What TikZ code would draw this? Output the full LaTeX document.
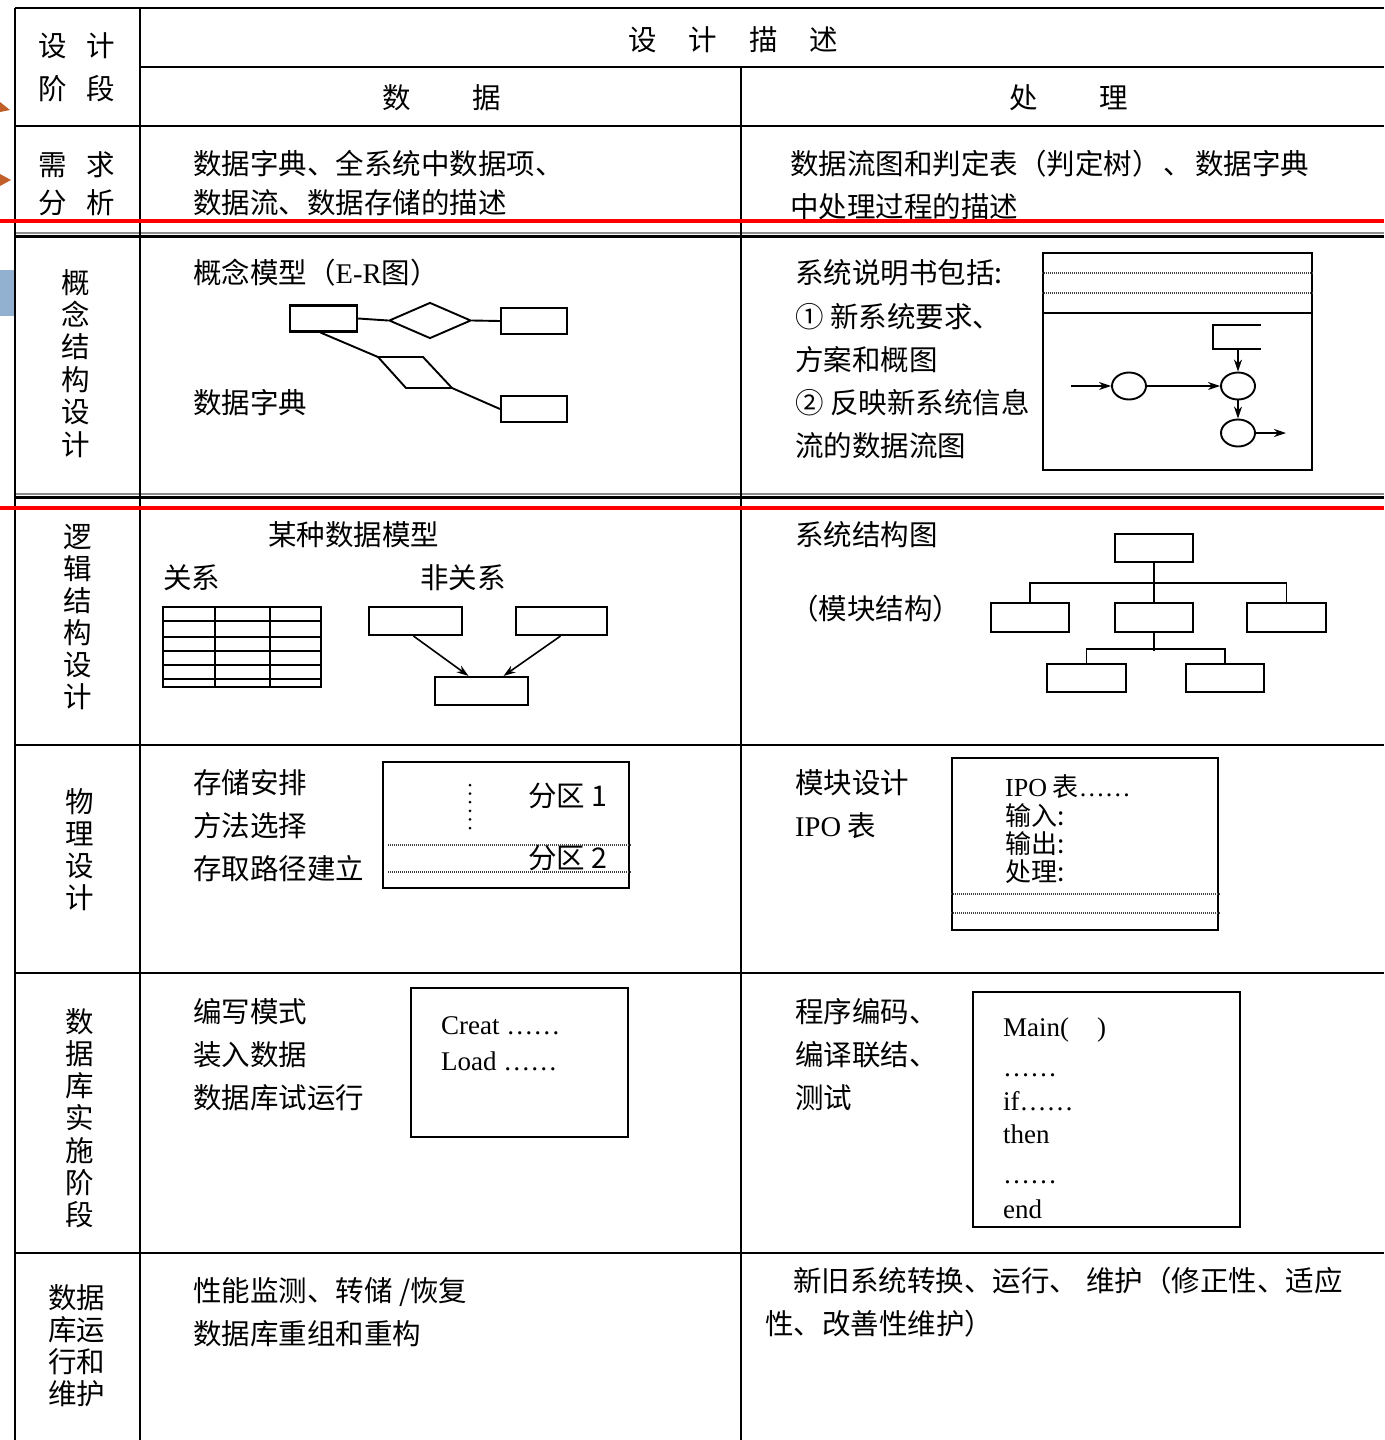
\documentclass[tikz,border=0pt]{standalone}
\usepackage{fontspec}
\setmainfont{Liberation Serif}
\newfontfamily\cjk{Noto Sans CJK SC}
\usetikzlibrary{arrows.meta,shapes.geometric,calc}
\definecolor{redline}{RGB}{255,0,0}
\definecolor{orangetri}{RGB}{192,96,40}
\definecolor{bluebar}{RGB}{146,176,207}
\begin{document}
\begin{tikzpicture}[x=1pt,y=-1pt,
  grid/.style={line width=2.3pt},
  zh/.style={anchor=base west, inner sep=0pt, font=\cjk\fontsize{28.5}{32}\selectfont},
  zhs/.style={zh, font=\cjk\fontsize{26}{28}\selectfont},
  zhc/.style={zh, anchor=base},
  en/.style={anchor=base west, inner sep=0pt, font=\rmfamily\fontsize{27}{32}\selectfont},
  box/.style={draw, line width=2.1pt, inner sep=0pt},
  shp/.style={line width=1.9pt},
  arr/.style={-{Stealth[length=12pt,width=8pt]}, line width=1.6pt},
  dotl/.style={line width=1.2pt, dash pattern=on 1pt off 1pt, black!75},
]
\useasboundingbox (0,0) rectangle (1384,1440);
\fill[white] (0,0) rectangle (1384,1440);

% slide artefacts at left edge
\fill[orangetri] (0,102) -- (10,110) -- (0,112) -- cycle;
\fill[orangetri] (0,174) -- (11,180) -- (0,186) -- cycle;
\fill[bluebar] (0,270) rectangle (14,316);

% ---------- table grid ----------
\draw[grid] (15,8) -- (1384,8);
\draw[grid] (140,67) -- (1384,67);
\draw[grid] (15,126) -- (1384,126);
\draw[line width=1.2pt, black!45] (15,233) -- (1384,233);
\draw[grid] (15,236.5) -- (1384,236.5);
\draw[line width=1.2pt, black!45] (15,494) -- (1384,494);
\draw[grid] (15,497.5) -- (1384,497.5);
\draw[grid] (15,745) -- (1384,745);
\draw[grid] (15,973) -- (1384,973);
\draw[grid] (15,1253) -- (1384,1253);
\draw[grid] (15,8) -- (15,1440);
\draw[grid] (140,8) -- (140,1440);
\draw[grid] (741,67) -- (741,1440);

% ---------- header ----------
\node[zh] (h1) at (38,56) {设\hspace{20pt}计};
\node[zh] (h2) at (38,99) {阶\hspace{20pt}段};
\node[zh] (h3) at (628,50) {设\hspace{32pt}计\hspace{32pt}描\hspace{32pt}述};
\node[zh] (h4) at (382,108) {数\hspace{62pt}据};
\node[zh] (h5) at (1009,108) {处\hspace{62pt}理};

% ---------- row: 需求分析 ----------
\node[zh] (r1a) at (38,175) {需\hspace{20pt}求};
\node[zh] (r1b) at (38,213) {分\hspace{20pt}析};
\node[zh] (r1c) at (193,174) {数据字典、全系统中数据项、};
\node[zh] (r1d) at (193,213) {数据流、数据存储的描述};
\node[zh] (r1e) at (790,174) {数据流图和判定表（判定树）\hspace{3pt}、\hspace{3pt}数据字典};
\node[zh] (r1f) at (790,217) {中处理过程的描述};

% ---------- row: 概念结构设计 ----------
\foreach \c [count=\i] in {概,念,结,构,设,计}
  \node[zhc] (r2v\i) at (76,{293+(\i-1)*32.4}) {\c};
\node[zh] (r2a) at (193,283) {概念模型（{\rmfamily E-R}图）};
\node[zh] (r2b) at (193,413) {数据字典};
% E-R diagram
\node[box, minimum width=67pt, minimum height=26pt] (e1) at (323.5,318.5) {};
\node[draw, shp, diamond, inner sep=0pt, minimum width=82pt, minimum height=36pt] (d1) at (430,320.5) {};
\node[box, minimum width=66pt, minimum height=26pt] (e2) at (534,321) {};
\node[box, minimum width=66pt, minimum height=26pt] (e3) at (534,409) {};
\coordinate (p1) at (378,357);
\coordinate (p2) at (423,357);
\coordinate (p3) at (452,388);
\coordinate (p4) at (406,388);
\draw[shp] (p1) -- (p2) -- (p3) -- (p4) -- cycle;
\draw[shp] (e1.east) -- (d1.west);
\draw[shp] (d1.east) -- (e2.west);
\draw[shp] ($(e1.south)+(-3,0)$) -- (p1);
\draw[shp] (p3) -- (e3.west);

\node[zh] (r2c) at (795,283) {系统说明书包括:};
\node[zh] (r2d) at (795,327) {① 新系统要求、};
\node[zh] (r2e) at (795,370) {方案和概图};
\node[zh] (r2f) at (795,413) {② 反映新系统信息};
\node[zh] (r2g) at (795,456) {流的数据流图};
% DFD
\node[box, minimum width=269pt, minimum height=217pt] (dfd) at (1177.5,361.5) {};
\draw[dotl] (dfd.west |- 0,273) -- (dfd.east |- 0,273);
\draw[dotl] (dfd.west |- 0,293) -- (dfd.east |- 0,293);
\draw[box] (dfd.west |- 0,313) -- (dfd.east |- 0,313);
\draw[shp] (1261,325) -- (1213,325) -- (1213,349) -- (1261,349);
\coordinate (st) at (1238,349);
\node[draw, shp, ellipse, inner sep=0pt, minimum width=34pt, minimum height=27pt] (c1) at (1129,386) {};
\node[draw, shp, ellipse, inner sep=0pt, minimum width=34pt, minimum height=27pt] (c2) at (1238,386) {};
\node[draw, shp, ellipse, inner sep=0pt, minimum width=34pt, minimum height=27pt] (c3) at (1238,433) {};
\coordinate (in1) at (1071,386);
\coordinate (out1) at (1286,433);
\draw[arr] (in1) -- (c1.west);
\draw[arr] (c1.east) -- (c2.west);
\draw[arr] (st) -- (c2.north);
\draw[arr] (c2.south) -- (c3.north);
\draw[arr] (c3.east) -- (out1);

% ---------- row: 逻辑结构设计 ----------
\foreach \c [count=\i] in {逻,辑,结,构,设,计}
  \node[zhc] (r3v\i) at (78,{547+(\i-1)*32}) {\c};
\node[zh] (r3a) at (268,545) {某种数据模型};
\node[zh] (r3b) at (163,588) {关系};
\node[zh] (r3c) at (420,588) {非关系};
% relation table
\draw[shp] (163,607) rectangle (321,687);
\foreach \yy in {621,637,651,665,679} \draw[shp] (163,\yy) -- (321,\yy);
\draw[shp] (215,607) -- (215,687);
\draw[shp] (270,607) -- (270,687);
% non-relational
\node[box, minimum width=93pt, minimum height=28pt] (n1) at (415.5,621) {};
\node[box, minimum width=91pt, minimum height=28pt] (n2) at (561.5,621) {};
\node[box, minimum width=93pt, minimum height=28pt] (n3) at (481.5,691) {};
\draw[arr] ($(n1.south)+(-2,0)$) -- ($(n3.north)+(-13,0)$);
\draw[arr] ($(n2.south)+(-1,0)$) -- ($(n3.north)+(22,0)$);

\node[zh] (r3d) at (795,545) {系统结构图};
\node[zh] (r3e) at (790,619) {（模块结构）};
% structure chart
\node[box, minimum width=78pt, minimum height=28pt] (s0) at (1154,548) {};
\node[box, minimum width=78pt, minimum height=29pt] (s1) at (1030,617.5) {};
\node[box, minimum width=78pt, minimum height=29pt] (s2) at (1154,617.5) {};
\node[box, minimum width=79pt, minimum height=29pt] (s3) at (1286.5,617.5) {};
\node[box, minimum width=79pt, minimum height=28pt] (s4) at (1086.5,678) {};
\node[box, minimum width=78pt, minimum height=28pt] (s5) at (1225,678) {};
\draw[shp] (s0.south) -- (s2.north);
\draw[shp] (s1.north) -- ++(0,-19) -| (s3.north);
\draw[shp] (s2.south) -- ++(0,18);
\draw[shp] (s4.north) -- ++(0,-14) -| (s5.north);

% ---------- row: 物理设计 ----------
\foreach \c [count=\i] in {物,理,设,计}
  \node[zhc] (r4v\i) at (80,{812+(\i-1)*32}) {\c};
\node[zh] (r4a) at (193,793) {存储安排};
\node[zh] (r4b) at (193,836) {方法选择};
\node[zh] (r4c) at (193,879) {存取路径建立};
\node[box, minimum width=246pt, minimum height=126pt] (pb) at (506,825) {};
\draw[line width=3pt, line cap=round, dash pattern=on 0pt off 8.6pt] (470,785) -- (470,829);
\node[zh] (r4d) at (528,806) {分区 1};
\node[zh] (r4e) at (528,868) {分区 2};
\draw[dotl] (388,845) -- (pb.east |- 0,845);
\draw[dotl, line width=1.8pt] (388,872) -- (pb.east |- 0,872);

\node[zh] (r4f) at (795,793) {模块设计};
\node[zh] (r4g) at (795,836) {{\rmfamily IPO} 表};
\node[box, minimum width=266pt, minimum height=172pt] (ipo) at (1085,844) {};
\node[zhs] (r4h) at (1005,796) {{\rmfamily IPO} 表{\rmfamily ……}};
\node[zhs] (r4i) at (1005,825) {输入:};
\node[zhs] (r4j) at (1005,853) {输出:};
\node[zhs] (r4k) at (1005,881) {处理:};
\draw[dotl] (ipo.west |- 0,894) -- (ipo.east |- 0,894);
\draw[dotl] (ipo.west |- 0,913) -- (ipo.east |- 0,913);

% ---------- row: 数据库实施阶段 ----------
\foreach \c [count=\i] in {数,据,库,实,施,阶,段}
  \node[zhc] (r5v\i) at (80,{1032+(\i-1)*32.3}) {\c};
\node[zh] (r5a) at (193,1022) {编写模式};
\node[zh] (r5b) at (193,1065) {装入数据};
\node[zh] (r5c) at (193,1108) {数据库试运行};
\node[box, minimum width=217pt, minimum height=149pt] (ib) at (519.5,1062.5) {};
\node[en] (r5d) at (441,1034) {Creat ……};
\node[en] (r5e) at (441,1070) {Load ……};

\node[zh] (r5f) at (795,1022) {程序编码、};
\node[zh] (r5g) at (795,1065) {编译联结、};
\node[zh] (r5h) at (795,1108) {测试};
\node[box, minimum width=267pt, minimum height=235pt] (cb) at (1106.5,1109.5) {};
\node[en] (r5i) at (1003,1036) {Main(\hspace{28pt})};
\node[en] (r5j) at (1003,1076) {……};
\node[en] (r5k) at (1003,1110) {if……};
\node[en] (r5l) at (1003,1143) {then};
\node[en] (r5m) at (1003,1183) {……};
\node[en] (r5n) at (1003,1218) {end};

% ---------- row: 数据库运行和维护 ----------
\node[zh] (r6a) at (48,1308) {数据};
\node[zh] (r6b) at (48,1340) {库运};
\node[zh] (r6c) at (48,1372) {行和};
\node[zh] (r6d) at (48,1404) {维护};
\node[zh] (r6e) at (193,1301) {性能监测、转储 /恢复};
\node[zh] (r6f) at (193,1344) {数据库重组和重构};
\node[zh] (r6g) at (793,1291) {新旧系统转换、运行、\hspace{8pt}维护（修正性、适应};
\node[zh] (r6h) at (765,1334) {性、改善性维护）};

% ---------- red lines ----------
\draw[redline, line width=4pt] (0,221) -- (1384,221);
\draw[redline, line width=4pt] (0,508) -- (1384,508);
\end{tikzpicture}
\end{document}
